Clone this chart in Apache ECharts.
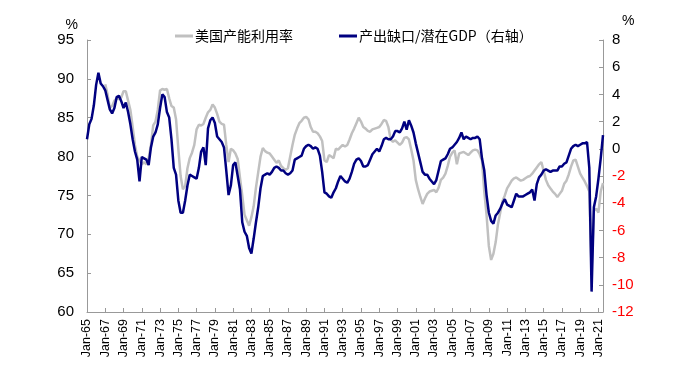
<!DOCTYPE html>
<html>
<head>
<meta charset="utf-8">
<script src="https://cdn.jsdelivr.net/npm/echarts@6/dist/echarts.min.js"></script>
<style>
html,body{margin:0;padding:0;background:#fff;}
#chart{width:674px;height:369px;}
</style>
</head>
<body>
<div id="chart"></div>
<script>
// Quarterly categories, 1965Q1 .. 2021Q3
const monthNames = ['Jan', 'Apr', 'Jul', 'Oct'];
const categories = [];
for (let y = 1965; y <= 2021; y++) {
  for (let q = 0; q < 4; q++) {
    if (y === 2021 && q > 2) break;
    categories.push(monthNames[q] + '-' + String(y % 100).padStart(2, '0'));
  }
}
const leftTicks = [60, 65, 70, 75, 80, 85, 90, 95];
const rightTicks = [-12, -10, -8, -6, -4, -2, 0, 2, 4, 6, 8];

// 美国产能利用率 (%), left axis; series starts 1967
const utilization = [
  null, null, null, null,
  null, null, null, null,
  89.3, 88.0, 86.3, 86.5,
  87.2, 87.5, 87.4, 87.6,
  88.4, 88.4, 87.2, 86.0,
  83.8, 81.5, 80.0, 79.5,
  79.0, 79.3, 79.0, 79.8,
  81.5, 84.0, 84.5, 86.0,
  88.5, 88.7, 88.6, 88.7,
  87.5, 86.5, 86.3, 84.8,
  81.0, 77.5, 75.8, 76.2,
  78.5, 79.8, 80.5, 81.5,
  83.5, 84.1, 84.0, 84.2,
  85.0, 85.7, 86.0, 86.7,
  86.3, 85.5, 84.5, 84.2,
  84.1, 81.5, 79.3, 81.0,
  80.8, 80.4, 79.7, 77.3,
  75.0, 72.5, 71.8, 71.1,
  72.2, 73.6, 76.0, 78.0,
  80.0, 81.1, 80.7, 80.5,
  80.4, 80.0, 79.6, 79.2,
  79.5, 78.8, 78.5, 78.3,
  78.5, 80.0, 81.5, 82.8,
  83.6, 84.3, 84.6, 85.0,
  85.1, 84.8, 83.8, 83.2,
  83.2, 83.0, 82.6, 82.0,
  79.5, 79.3, 80.2, 80.0,
  79.8, 81.0, 80.9, 81.2,
  81.5, 81.3, 81.5, 82.2,
  83.0, 83.6, 84.3, 85.0,
  84.5, 83.8, 83.6, 83.3,
  83.2, 83.5, 83.6, 83.7,
  83.8, 84.2, 84.7, 84.6,
  83.8, 82.2, 81.9, 82.1,
  81.8, 81.5, 81.8, 82.4,
  82.5, 82.2, 80.9, 79.5,
  77.0, 75.8, 74.8, 73.9,
  74.6, 75.2, 75.5, 75.6,
  75.7, 75.4, 76.0, 77.0,
  77.3, 77.8, 78.8, 80.0,
  80.5, 80.8, 79.0, 80.4,
  80.5, 80.6, 80.4, 80.2,
  80.5, 80.8, 80.9, 80.8,
  80.3, 79.5, 75.5, 72.5,
  68.5, 66.7, 67.5, 69.0,
  71.3, 72.8, 74.3, 75.0,
  75.9, 76.4, 76.9, 77.2,
  77.3, 77.1, 76.9, 77.0,
  77.2, 77.4, 77.5, 77.8,
  78.2, 78.6, 79.0, 79.3,
  78.2, 77.0, 76.3, 75.9,
  75.5, 75.2, 74.8, 75.2,
  75.6, 76.5, 76.9, 77.7,
  78.7, 79.5, 79.6, 78.7,
  77.8, 77.3, 76.8, 76.2,
  75.5, 65.5, 73.0, 73.3,
  72.8, 75.5, 76.6
];

// 产出缺口/潜在GDP (%), right axis
const outputGap = [
  0.7, 1.8, 2.2, 3.2,
  4.7, 5.6, 4.8, 4.6,
  4.3, 3.6, 2.9, 2.6,
  3.0, 3.8, 3.9, 3.5,
  3.0, 3.4, 2.7, 1.8,
  0.7, -0.2, -0.8, -2.4,
  -0.6, -0.7, -0.8, -1.2,
  0.1, 0.9, 1.2, 1.8,
  3.0, 4.0, 3.8, 2.7,
  2.3, 0.7, -1.4, -1.9,
  -3.8, -4.7, -4.7, -3.8,
  -2.7, -1.9, -2.0, -2.1,
  -2.2, -1.4, -0.2, 0.1,
  -1.2, 1.5, 2.1, 2.3,
  1.9, 0.9, 0.7, 0.5,
  0.1, -1.6, -3.4, -2.7,
  -1.2, -1.0, -2.0, -3.0,
  -5.4, -6.1, -6.4, -7.3,
  -7.7, -6.6, -5.4, -4.3,
  -2.9, -2.0, -1.9, -1.8,
  -1.9, -1.7, -1.4, -1.3,
  -1.4, -1.6, -1.6, -1.8,
  -1.9, -1.8, -1.6, -0.8,
  -0.7, -0.6, -0.5, 0.0,
  0.2, 0.3, 0.2, 0.0,
  0.1, 0.0, -0.5, -1.7,
  -3.2, -3.3, -3.5, -3.6,
  -3.2, -2.9, -2.4, -2.0,
  -2.2, -2.4, -2.5, -2.2,
  -1.7, -1.1, -0.8, -0.7,
  -0.9, -1.3, -1.3, -1.2,
  -0.8, -0.4, -0.2, 0.0,
  -0.2, 0.2, 0.7, 0.8,
  0.7, 0.7, 0.9, 1.3,
  1.3, 1.2, 1.5, 2.0,
  1.4, 2.1, 1.7, 1.2,
  0.4, -0.3, -1.0, -1.7,
  -1.9, -1.9, -2.2, -2.4,
  -2.6, -2.3, -1.6, -0.9,
  -0.8, -0.7, -0.4, 0.0,
  0.1, 0.3, 0.5, 0.8,
  1.2, 0.7, 0.9, 0.8,
  0.7, 0.8, 0.8, 0.9,
  0.7, -0.7, -1.6, -3.4,
  -4.7, -5.3, -5.5, -4.9,
  -4.7, -4.4, -4.0, -3.7,
  -4.1, -4.2, -4.3, -3.8,
  -3.3, -3.5, -3.5, -3.5,
  -3.4, -3.3, -3.2, -3.0,
  -3.8, -2.6, -2.1, -1.9,
  -1.6, -1.5, -1.6, -1.7,
  -1.6, -1.6, -1.6, -1.3,
  -1.3, -1.1, -1.0, -0.5,
  0.0, 0.2, 0.3, 0.2,
  0.3, 0.4, 0.4, 0.5,
  -1.4, -10.5, -4.3, -3.5,
  -2.2, -0.7, 1.0
];

const FONT = 'Liberation Sans, Arial, Noto Sans CJK SC, sans-serif';
const showTick = (i) => i % 8 === 0;

const chart = echarts.init(document.getElementById('chart'));
chart.setOption({
  animation: false,
  backgroundColor: '#fff',
  textStyle: { fontFamily: FONT },
  grid: { left: 87, right: 71, top: 40, bottom: 57, containLabel: false },
  legend: {
    left: 170, top: 24,
    itemWidth: 18, itemHeight: 3, itemGap: 46,
    icon: 'rect',
    textStyle: { fontSize: 14, color: '#000', fontFamily: 'Noto Sans CJK SC, Liberation Sans, sans-serif', padding: [0, 0, 0, -3] },
    data: ['美国产能利用率', '产出缺口/潜在GDP（右轴）']
  },
  xAxis: {
    type: 'category',
    data: categories,
    boundaryGap: false,
    axisLine: { onZero: false, lineStyle: { color: '#999', width: 1 } },
    axisTick: { show: true, inside: true, length: 4, interval: showTick, lineStyle: { color: '#999' } },
    axisLabel: { interval: showTick, rotate: 90, fontSize: 12.5, color: '#000', margin: 7, fontFamily: FONT },
    splitLine: { show: false }
  },
  yAxis: [
    {
      type: 'value', min: 60, max: 95, interval: 5,
      name: '%', nameLocation: 'end', nameGap: 8,
      nameTextStyle: { fontSize: 14, color: '#000', align: 'right', padding: [0, 9, 0, 0], fontFamily: FONT },
      axisLine: { show: true, onZero: false, lineStyle: { color: '#999', width: 1 } },
      axisTick: { show: true, inside: true, length: 4, lineStyle: { color: '#999' } },
      axisLabel: { fontSize: 15, color: '#000', margin: 13, fontFamily: FONT,
        formatter: (v) => leftTicks.includes(v) ? String(v) : '' },
      splitLine: { show: false }
    },
    {
      type: 'value', min: -12, max: 8, interval: 2,
      name: '%', nameLocation: 'end', nameGap: 12,
      nameTextStyle: { fontSize: 14, color: '#000', align: 'left', padding: [0, 0, 0, 19], fontFamily: FONT },
      axisLine: { show: true, onZero: false, lineStyle: { color: '#999', width: 1 } },
      axisTick: { show: true, inside: true, length: 4, lineStyle: { color: '#999' } },
      axisLabel: {
        fontSize: 15, margin: 9, fontFamily: FONT,
        formatter: (v) => rightTicks.includes(v) ? (v < 0 ? '{r|' + v + '}' : '{k|' + v + '}') : '',
        rich: {
          r: { color: '#ff0000', fontSize: 15, fontFamily: FONT },
          k: { color: '#000', fontSize: 15, fontFamily: FONT }
        }
      },
      splitLine: { show: false }
    }
  ],
  series: [
    {
      name: '美国产能利用率', type: 'line', yAxisIndex: 0,
      data: utilization, showSymbol: false, connectNulls: false,
      lineStyle: { color: '#c0c0c0', width: 2.5 },
      itemStyle: { color: '#c0c0c0' }
    },
    {
      name: '产出缺口/潜在GDP（右轴）', type: 'line', yAxisIndex: 1,
      data: outputGap, showSymbol: false,
      lineStyle: { color: '#000080', width: 2.5 },
      itemStyle: { color: '#000080' }
    }
  ]
});
</script>
</body>
</html>
